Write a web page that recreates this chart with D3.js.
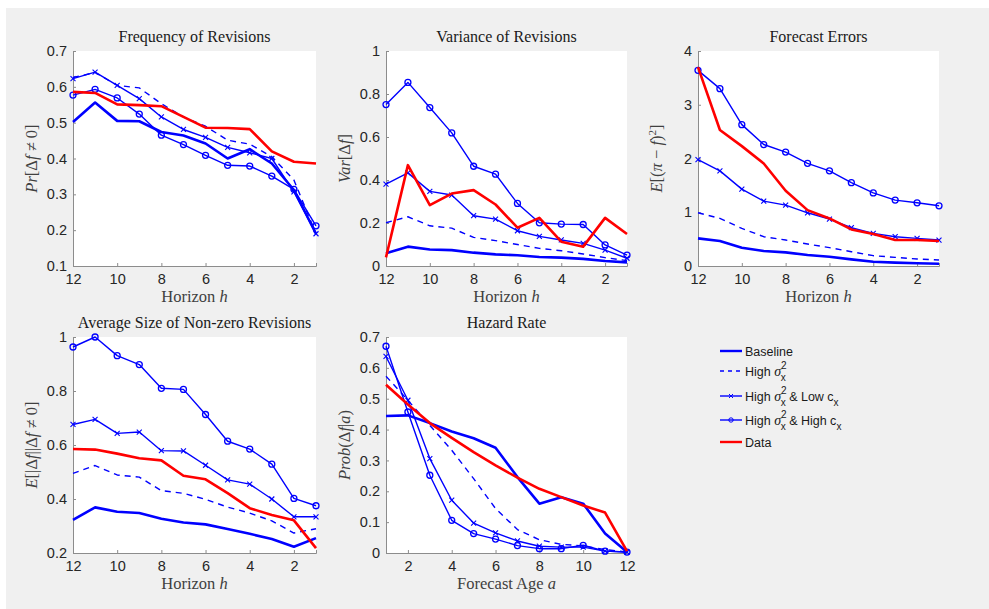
<!DOCTYPE html>
<html>
<head>
<meta charset="utf-8">
<script src="https://cdn.jsdelivr.net/npm/d3@7"></script>
<style>
  body { margin: 0; background: #fff; }
  svg { display: block; }
</style>
</head>
<body>
<svg id="chart" width="989" height="609"></svg>
<script>
// horizons 12..1 and forecast age 1..12
var horizons = [12, 11, 10, 9, 8, 7, 6, 5, 4, 3, 2, 1];
var ages = [1, 2, 3, 4, 5, 6, 7, 8, 9, 10, 11, 12];

var seriesNames = ["Baseline", "High σx2", "High σx2 & Low cx", "High σx2 & High cx", "Data"];

// Frequency of revisions
var freqBase = [0.502, 0.556, 0.505, 0.504, 0.474, 0.464, 0.442, 0.400, 0.426, 0.386, 0.312, 0.19];
var freqHigh = [0.626, 0.640, 0.604, 0.597, 0.553, 0.516, 0.490, 0.451, 0.440, 0.405, 0.340, 0.19];
var freqLow = [0.623, 0.641, 0.604, 0.567, 0.516, 0.481, 0.459, 0.431, 0.416, 0.400, 0.307, 0.19];
var freqHighC = [0.577, 0.593, 0.569, 0.524, 0.465, 0.439, 0.409, 0.381, 0.379, 0.351, 0.314, 0.212];
var freqData = [0.586, 0.583, 0.551, 0.549, 0.546, 0.516, 0.486, 0.485, 0.482, 0.420, 0.391, 0.386];

// Variance of revisions
var varBase = [0.059, 0.090, 0.077, 0.074, 0.062, 0.054, 0.050, 0.042, 0.039, 0.033, 0.023, 0.017];
var varHigh = [0.201, 0.229, 0.187, 0.176, 0.133, 0.118, 0.100, 0.082, 0.071, 0.056, 0.039, 0.025];
var varLow = [0.381, 0.433, 0.347, 0.330, 0.234, 0.218, 0.164, 0.138, 0.121, 0.105, 0.074, 0.036];
var varHighC = [0.751, 0.854, 0.737, 0.619, 0.464, 0.427, 0.291, 0.201, 0.195, 0.193, 0.098, 0.051];
var varData = [0.040, 0.469, 0.283, 0.337, 0.353, 0.286, 0.178, 0.224, 0.113, 0.090, 0.224, 0.149];

// Forecast errors
var errBase = [0.514, 0.464, 0.340, 0.279, 0.254, 0.204, 0.173, 0.124, 0.080, 0.062, 0.050, 0.043];
var errHigh = [0.990, 0.885, 0.700, 0.545, 0.483, 0.409, 0.341, 0.266, 0.192, 0.161, 0.130, 0.111];
var errLow = [1.98, 1.77, 1.43, 1.207, 1.133, 0.99, 0.873, 0.712, 0.607, 0.545, 0.514, 0.483];
var errHighC = [3.64, 3.30, 2.63, 2.26, 2.12, 1.91, 1.77, 1.55, 1.36, 1.226, 1.176, 1.12];
var errData = [3.70, 2.53, 2.23, 1.907, 1.40, 1.04, 0.885, 0.68, 0.594, 0.483, 0.483, 0.464];

// Average size of non-zero revisions
var sizeBase = [0.323, 0.369, 0.353, 0.348, 0.327, 0.313, 0.306, 0.289, 0.271, 0.252, 0.223, 0.255];
var sizeHigh = [0.495, 0.524, 0.489, 0.481, 0.431, 0.421, 0.399, 0.370, 0.348, 0.319, 0.274, 0.290];
var sizeLow = [0.676, 0.695, 0.643, 0.648, 0.579, 0.578, 0.525, 0.471, 0.455, 0.400, 0.334, 0.334];
var sizeHighC = [0.963, 1.000, 0.931, 0.898, 0.810, 0.806, 0.713, 0.614, 0.585, 0.529, 0.402, 0.375];
var sizeData = [0.585, 0.583, 0.568, 0.551, 0.543, 0.486, 0.473, 0.422, 0.366, 0.341, 0.321, 0.218];

// Hazard rate (by forecast age)
var hazBase = [0.444, 0.446, 0.421, 0.394, 0.372, 0.341, 0.246, 0.160, 0.181, 0.160, 0.063, 0.003];
var hazHigh = [0.573, 0.495, 0.414, 0.333, 0.241, 0.144, 0.076, 0.043, 0.028, 0.023, 0.011, 0.003];
var hazLow = [0.637, 0.495, 0.306, 0.171, 0.097, 0.065, 0.039, 0.022, 0.019, 0.019, 0.006, 0.003];
var hazHighC = [0.670, 0.457, 0.252, 0.106, 0.063, 0.045, 0.024, 0.014, 0.014, 0.025, 0.006, 0.003];
var hazData = [0.545, 0.481, 0.421, 0.373, 0.327, 0.284, 0.244, 0.208, 0.181, 0.154, 0.131, 0.006];

var svg = d3.select("#chart");
svg.append("rect").attr("x", 6).attr("y", 8).attr("width", 983).attr("height", 601).attr("fill", "#f0f0f0");

var BLUE = "#0000ff", RED = "#ff0000";
var serif = "'Liberation Serif', 'DejaVu Serif', serif";
var sans = "'Liberation Sans', Arial, sans-serif";

// style per series
var styles = [
    {color: BLUE, width: 2.6, dash: null, marker: null},
    {color: BLUE, width: 1.4, dash: "6,5", marker: null},
    {color: BLUE, width: 1.4, dash: null, marker: "x"},
    {color: BLUE, width: 1.4, dash: null, marker: "o"},
    {color: RED, width: 2.6, dash: null, marker: null}
];

function drawPanel(p){
    var g = svg.append("g");
    var x = d3.scaleLinear().domain(p.xdom).range([p.left, p.right]);
    var y = d3.scaleLinear().domain(p.ydom).range([p.bottom, p.top]);

    g.append("rect").attr("x", p.left).attr("y", p.top)
        .attr("width", p.right - p.left).attr("height", p.bottom - p.top)
        .attr("fill", "#fff");

    var xAxis = g.append("g").attr("transform", "translate(0," + p.bottom + ")")
        .call(d3.axisBottom(x).tickValues(p.xticks).tickSize(-3).tickPadding(8).tickFormat(d3.format("d")));
    var yAxis = g.append("g").attr("transform", "translate(" + p.left + ",0)")
        .call(d3.axisLeft(y).tickValues(p.yticks).tickSize(-3).tickPadding(6).tickFormat(function(d){ return +d.toFixed(2) + ""; }));
    [xAxis, yAxis].forEach(function(a){
        a.select(".domain").attr("stroke", "#8c8c8c").attr("stroke-width", 1);
        a.selectAll(".tick line").attr("stroke", "#8c8c8c");
        a.selectAll(".tick text").attr("font-family", sans).attr("font-size", "14.5px").attr("fill", "#262626");
    });

    var line = d3.line().x(function(d){ return x(d[0]); }).y(function(d){ return y(d[1]); });
    p.series.forEach(function(vals, i){
        var st = styles[i];
        var pts = p.xs.map(function(v, j){ return [v, vals[j]]; });
        g.append("path").attr("d", line(pts)).attr("fill", "none")
            .attr("stroke", st.color).attr("stroke-width", st.width)
            .attr("stroke-dasharray", st.dash).attr("stroke-linejoin", "round");
        if (st.marker === "o") {
            g.selectAll(null).data(pts).enter().append("circle")
                .attr("cx", function(d){ return x(d[0]); }).attr("cy", function(d){ return y(d[1]); })
                .attr("r", 3).attr("fill", "none").attr("stroke", st.color).attr("stroke-width", 1.3);
        } else if (st.marker === "x") {
            g.selectAll(null).data(pts).enter().append("path")
                .attr("d", function(d){ var cx = x(d[0]), cy = y(d[1]), s = 2.5;
                    return "M" + (cx - s) + "," + (cy - s) + "L" + (cx + s) + "," + (cy + s) +
                        "M" + (cx - s) + "," + (cy + s) + "L" + (cx + s) + "," + (cy - s); })
                .attr("stroke", st.color).attr("stroke-width", 1.1);
        }
    });

    g.append("text").attr("x", (p.left + p.right) / 2).attr("y", p.top - 9)
        .attr("text-anchor", "middle").attr("font-family", serif).attr("font-size", "16px")
        .attr("fill", "#1a1a1a").text(p.title);

    var xl = g.append("text").attr("x", (p.left + p.right) / 2).attr("y", p.bottom + 36)
        .attr("text-anchor", "middle").attr("font-family", serif).attr("font-size", "16.5px").attr("fill", "#404040");
    p.xlabel.forEach(function(t){ xl.append("tspan").attr("font-style", t[1] ? "italic" : null).text(t[0]); });

    var ylx = p.left - 36, yly = (p.top + p.bottom) / 2;
    var yl = g.append("text").attr("transform", "translate(" + ylx + "," + yly + ") rotate(-90)")
        .attr("text-anchor", "middle").attr("font-family", serif).attr("font-size", "16.5px").attr("fill", "#404040");
    p.ylabel.forEach(function(t){ yl.append("tspan").attr("font-style", t[1] ? "italic" : null)
        .attr("font-size", t[2] || null).attr("dy", t[3] || null).text(t[0]); });
}

var hTicks = [12, 10, 8, 6, 4, 2];
var hLabel = [["Horizon ", false], ["h", true]];

drawPanel({title: "Frequency of Revisions", left: 73, right: 316, top: 51, bottom: 266,
    xdom: [12, 1], ydom: [0.1, 0.7], xticks: hTicks, yticks: d3.range(0.1, 0.71, 0.1), xs: horizons,
    series: [freqBase, freqHigh, freqLow, freqHighC, freqData], xlabel: hLabel,
    ylabel: [["Pr", true], ["[Δ", false], ["f", true], [" ≠ 0]", false]]});

drawPanel({title: "Variance of Revisions", left: 386, right: 627, top: 51, bottom: 266,
    xdom: [12, 1], ydom: [0, 1], xticks: hTicks, yticks: [0, 0.2, 0.4, 0.6, 0.8, 1], xs: horizons,
    series: [varBase, varHigh, varLow, varHighC, varData], xlabel: hLabel,
    ylabel: [["Var", true], ["[Δ", false], ["f", true], ["]", false]]});

drawPanel({title: "Forecast Errors", left: 698, right: 939, top: 51, bottom: 266,
    xdom: [12, 1], ydom: [0, 4], xticks: hTicks, yticks: [0, 1, 2, 3, 4], xs: horizons,
    series: [errBase, errHigh, errLow, errHighC, errData], xlabel: hLabel,
    ylabel: [["E", true], ["[(", false], ["π", true], [" − ", false], ["f", true], [")", false], ["2", false, "11px", "-6"], ["]", false, null, "6"]]});

drawPanel({title: "Average Size of Non-zero Revisions", left: 73, right: 316, top: 337, bottom: 553,
    xdom: [12, 1], ydom: [0.2, 1], xticks: hTicks, yticks: [0.2, 0.4, 0.6, 0.8, 1], xs: horizons,
    series: [sizeBase, sizeHigh, sizeLow, sizeHighC, sizeData], xlabel: hLabel,
    ylabel: [["E", true], ["[|Δ", false], ["f", true], ["||Δ", false], ["f", true], [" ≠ 0]", false]]});

drawPanel({title: "Hazard Rate", left: 386, right: 627, top: 337, bottom: 553,
    xdom: [1, 12], ydom: [0, 0.7], xticks: [2, 4, 6, 8, 10, 12], yticks: d3.range(0, 0.71, 0.1), xs: ages,
    series: [hazBase, hazHigh, hazLow, hazHighC, hazData],
    xlabel: [["Forecast Age ", false], ["a", true]],
    ylabel: [["Prob", true], ["(Δ", false], ["f", true], ["|", false], ["a", true], [")", false]]});

// legend
var legend = svg.append("g").attr("transform", "translate(720,351)");
var rowY = [0, 20, 45, 69, 91];
seriesNames.forEach(function(name, i){
    var st = styles[i], ry = rowY[i];
    var row = legend.append("g").attr("transform", "translate(0," + ry + ")");
    row.append("line").attr("x1", 0).attr("x2", 22).attr("y1", 0).attr("y2", 0)
        .attr("stroke", st.color).attr("stroke-width", i === 0 || i === 4 ? 2.4 : 1.4)
        .attr("stroke-dasharray", st.dash ? "4,4" : null);
    if (st.marker === "o") row.append("circle").attr("cx", 11).attr("cy", 0).attr("r", 2.2)
        .attr("fill", "none").attr("stroke", st.color);
    if (st.marker === "x") row.append("path").attr("d", "M9,-2L13,2M9,2L13,-2").attr("stroke", st.color);
    var t = row.append("text").attr("x", 25).attr("y", 5).attr("font-family", sans)
        .attr("font-size", "12.5px").attr("fill", "#1a1a1a");
    if (i === 0 || i === 4) { t.text(name); return; }
    t.append("tspan").text("High ");
    t.append("tspan").attr("font-family", serif).attr("font-style", "italic").attr("font-size", "14px").text("σ");
    t.append("tspan").attr("font-size", "10px").attr("dy", -7).text("2");
    t.append("tspan").attr("font-size", "10px").attr("dx", -6).attr("dy", 12).text("x");
    if (i === 1) return;
    t.append("tspan").attr("dy", -5).text(i === 2 ? " & Low c" : " & High c");
    t.append("tspan").attr("font-size", "10px").attr("dy", 5).text("x");
});
</script>
</body>
</html>
